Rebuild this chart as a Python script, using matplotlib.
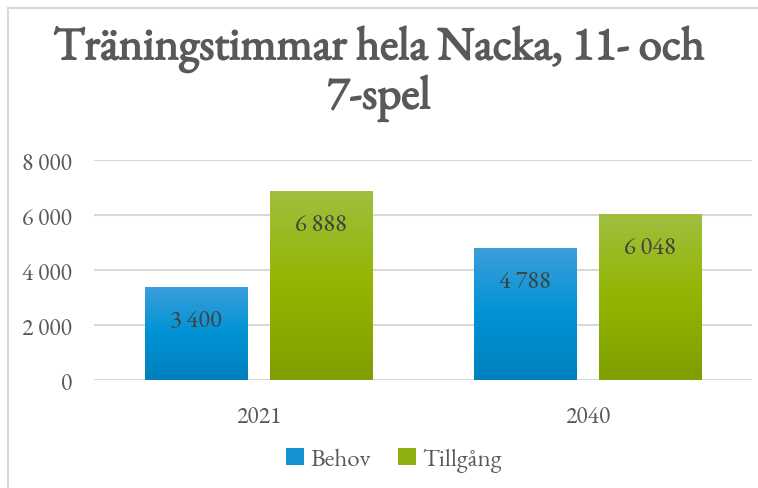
import matplotlib
matplotlib.use("Agg")
import matplotlib.pyplot as plt
import numpy as np
from matplotlib import font_manager as fm
from matplotlib.colors import LinearSegmentedColormap
from matplotlib.lines import Line2D
from matplotlib.patches import Patch
import matplotlib.patheffects as pe

categories = ["2021", "2040"]
series = ["Behov", "Tillgång"]
behov = [3400, 4788]
tillgang = [6888, 6048]
yticks = [0, 2000, 4000, 6000, 8000]
title = "Träningstimmar hela Nacka, 11- och\n7-spel"

def fmt(v):
    return f"{v:,}".replace(",", " ")

available = set(f.name for f in fm.fontManager.ttflist)
serif = next((n for n in ["EB Garamond", "Cormorant Garamond", "Liberation Serif", "DejaVu Serif"]
              if n in available), "serif")
fams = [serif, 'DejaVu Serif']
plt.rcParams['font.family'] = fams

def wnum(w):
    if isinstance(w, int):
        return w
    return fm.weight_dict.get(str(w), 400)

bold_file = None
for f in fm.fontManager.ttflist:
    if f.name.startswith("EB Garamond") and wnum(f.weight) >= 600 and f.style == "normal":
        bold_file = f.fname
        break

fig = plt.figure(figsize=(7.58, 4.89), dpi=100)
ax = fig.add_axes([94/758, 1-381/489, (752-94)/758, (381-161)/489])

blue_cmap = LinearSegmentedColormap.from_list("b", ["#0080bd", "#0093d5", "#3c9edb"])
green_cmap = LinearSegmentedColormap.from_list("g", ["#7f9e00", "#93b500", "#a0bf40"])

x = np.arange(len(categories))
w = 0.313
off = 0.19
grad = np.linspace(0, 1, 256).reshape(-1, 1)

for vals, dx, cmap in [(behov, -off, blue_cmap), (tillgang, off, green_cmap)]:
    bars = ax.bar(x + dx, vals, w, color="none", edgecolor="none", zorder=3)
    for b, v in zip(bars, vals):
        x0, x1 = b.get_x(), b.get_x() + b.get_width()
        im = ax.imshow(grad, extent=[x0, x1, 0, v], origin="lower", cmap=cmap,
                       aspect="auto", zorder=3, interpolation="bilinear")
        im.set_clip_path(b)
        ax.annotate(fmt(v), (b.get_x() + b.get_width()/2, v), xytext=(0, -24.5),
                    textcoords="offset points", ha="center", va="center",
                    fontsize=17.5, color="#404040", zorder=5, family=fams)

ax.set_xlim(-0.5, 1.5)
ax.set_ylim(0, 8000)
ax.set_yticks(yticks)
ax.set_yticklabels([fmt(t) for t in yticks], family=fams)
ax.set_xticks(x)
ax.set_xticklabels(categories, family=fams)
ax.tick_params(axis="both", length=0, labelsize=17, labelcolor="#595959")
ax.tick_params(axis="y", pad=16)
ax.tick_params(axis="x", pad=18)
for s in ax.spines.values():
    s.set_visible(False)
ax.grid(axis="y", color="#d9d9d9", linewidth=1.5, zorder=0)
ax.set_axisbelow(True)

if bold_file:
    tprops = dict(fontproperties=fm.FontProperties(fname=bold_file, size=33.5))
    effects = []
else:
    tprops = dict(family=fams, fontsize=33.5, fontweight="bold")
    effects = [pe.withStroke(linewidth=1.2, foreground="#595959")]
t = fig.suptitle(title, x=0.5, y=0.945, color="#595959", linespacing=1.12, va="top", **tprops)
t.set_path_effects(effects)

handles = [Patch(facecolor="#1592d2", edgecolor="none"),
           Patch(facecolor="#8fb011", edgecolor="none")]
fig.legend(handles, series, loc="center", bbox_to_anchor=(394/758, 1-461/489),
           ncol=2, frameon=False, handlelength=0.7, handleheight=0.7,
           handletextpad=0.25, columnspacing=1.1, labelcolor="#595959",
           prop={"family": fams, "size": 18})

fig.add_artist(Line2D([8/758, 1], [1-9/489, 1-9/489], transform=fig.transFigure,
                      color="#d9d9d9", linewidth=1.5))
fig.add_artist(Line2D([8/758, 8/758], [0, 1-9/489], transform=fig.transFigure,
                      color="#d9d9d9", linewidth=1.5))

fig.savefig("out.png", dpi=100)
